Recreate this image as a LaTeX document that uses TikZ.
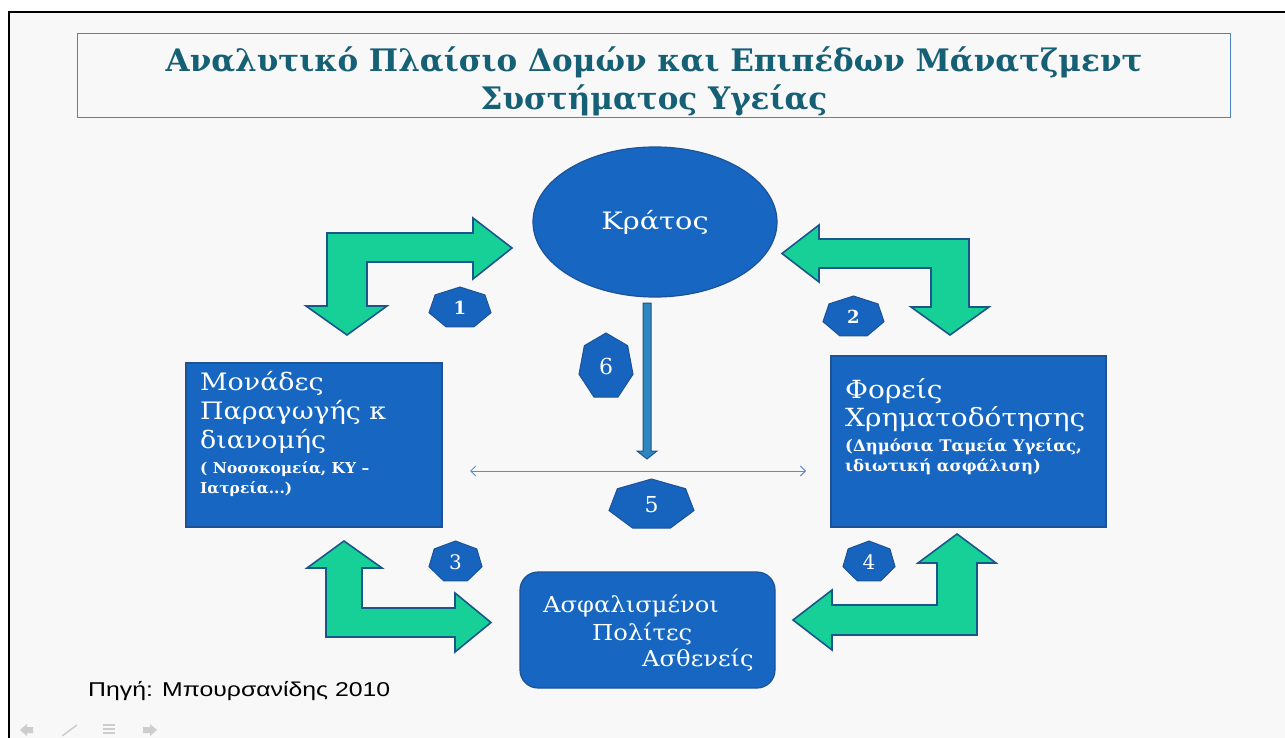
\documentclass[tikz,border=0pt]{standalone}
\usepackage{fontspec}
\setmainfont{DejaVu Serif}
\newfontfamily\boxfont{DejaVu Serif}[FakeStretch=1.12]
\newfontfamily\citfont{DejaVu Serif}[FakeStretch=1.1]
\newfontfamily\notefont{DejaVu Serif}[FakeStretch=1.03]
\newfontfamily\statefont{DejaVu Serif}[FakeStretch=1.2]
\newfontfamily\sourcefont{Liberation Sans}[FakeStretch=1.24]
\usetikzlibrary{shapes.geometric,arrows.meta}

\definecolor{pagebg}{RGB}{248,248,248}
\definecolor{boxblue}{RGB}{22,102,194}
\definecolor{boxedge}{RGB}{30,82,150}
\definecolor{heptblue}{RGB}{22,100,190}
\definecolor{arrowgreen}{RGB}{22,208,152}
\definecolor{arrowedge}{RGB}{26,86,140}
\definecolor{titleteal}{RGB}{22,96,118}
\definecolor{titleedge}{RGB}{75,135,190}
\definecolor{linkblue}{RGB}{95,140,205}
\definecolor{shaftblue}{RGB}{45,135,190}
\definecolor{navgray}{RGB}{205,205,205}

\tikzset{
  blockarrow/.style={fill=arrowgreen, draw=arrowedge, line width=1.6pt, line join=miter},
  unitbox/.style={draw=boxedge, line width=1.2pt, fill=boxblue, inner sep=0pt},
  boxtext/.style={text=white, inner sep=0pt, align=left},
  heptshape/.style={fill=heptblue, draw=boxedge, line width=1pt},
  heptnum/.style={text=white, inner sep=0pt, font=\fontsize{18}{18}\selectfont\bfseries},
}

% heptagon label: name, centre x, centre y, radius x, radius y, number
\newcommand\heptlabel[6]{%
  \draw[heptshape] ({#2},{#3-#5}) -- ({#2-0.7818*#4},{#3-0.6235*#5})
    -- ({#2-0.9749*#4},{#3+0.2225*#5}) -- ({#2-0.4339*#4},{#3+0.9010*#5})
    -- ({#2+0.4339*#4},{#3+0.9010*#5}) -- ({#2+0.9749*#4},{#3+0.2225*#5})
    -- ({#2+0.7818*#4},{#3-0.6235*#5}) -- cycle;
  \node[heptnum] (#1) at (#2,#3) {#6};}

\begin{document}
\begin{tikzpicture}[x=1pt,y=-1pt]
\useasboundingbox (0,0) rectangle (1285,738);
\fill[white] (0,0) rectangle (1285,738);
\fill[pagebg] (9,12) rectangle (1285,738);
\draw[black, line width=2.2pt] (9,738) -- (9,12) -- (1285,12);

% title
\node[draw=titleedge, line width=1pt, minimum width=1153pt, minimum height=84pt, inner sep=0pt] (titlebox) at (653.5,76) {};
\node[text=titleteal, align=center, inner sep=0pt, anchor=north,
      font=\fontsize{31}{38}\selectfont\bfseries] (title) at (654,47)
  {Αναλυτικό Πλαίσιο Δομών και Επιπέδων Μάνατζμεντ\\Συστήματος Υγείας};

% main blocks
\node[ellipse, fill=boxblue, draw=boxedge, line width=1.2pt, minimum width=244pt, minimum height=150pt, inner sep=0pt,
      text=white, font=\statefont\fontsize{24}{24}\selectfont] (state) at (655,222) {Κράτος};

\node[unitbox, minimum width=256pt, minimum height=164pt] (units) at (314,445) {};
\node[boxtext, anchor=north west, font=\boxfont\fontsize{24}{29}\selectfont] (unitsname) at (200,371)
  {Μονάδες\\Παραγωγής κ\\διανομής};
\node[boxtext, anchor=north west, font=\notefont\fontsize{15}{20}\selectfont\bfseries] (unitsnote) at (200,461)
  {( Νοσοκομεία, ΚΥ –\\Ιατρεία...)};

\node[unitbox, minimum width=275pt, minimum height=171pt] (funds) at (968.5,441.5) {};
\node[boxtext, anchor=north west, font=\boxfont\fontsize{25}{28}\selectfont] (fundsname) at (845,378)
  {Φορείς\\Χρηματοδότησης};
\node[boxtext, anchor=north west, font=\notefont\fontsize{16}{20}\selectfont\bfseries] (fundsnote) at (845,438.5)
  {(Δημόσια Ταμεία Υγείας,\\ιδιωτική ασφάλιση)};

\node[unitbox, rounded corners=18pt, minimum width=255pt, minimum height=116pt] (citizens) at (647.5,630) {};
\tikzset{citline/.style={boxtext, anchor=base west, font=\citfont\fontsize{22}{22}\selectfont}}
\node[citline] (cit1) at (543,612) {Ασφαλισμένοι};
\node[citline] (cit2) at (592,640) {Πολίτες};
\node[citline] (cit3) at (642,666) {Ασθενείς};

% bent block arrows
\draw[blockarrow] (327,233) -- (473,233) -- (473,218) -- (512,248) -- (473,279) -- (473,262)
  -- (367,262) -- (367,306) -- (387,306) -- (347,335) -- (306,306) -- (327,306) -- cycle;
\draw[blockarrow] (969,239) -- (819,239) -- (819,225) -- (782,253.5) -- (819,282) -- (819,268)
  -- (931,268) -- (931,307) -- (911,307) -- (950,335) -- (989,307) -- (969,307) -- cycle;
\draw[blockarrow] (326,637) -- (326,568) -- (307,568) -- (344,541) -- (382,568) -- (362,568)
  -- (362,608) -- (455,608) -- (455,593) -- (491,622.5) -- (455,652) -- (455,637) -- cycle;
\draw[blockarrow] (977,635) -- (977,563) -- (996,563) -- (957,534) -- (918,563) -- (937,563)
  -- (937,605) -- (832,605) -- (832,590) -- (793,620) -- (832,650) -- (832,635) -- cycle;

% state down to the exchange line
\draw[fill=shaftblue, draw=arrowedge, line width=1pt] (643,303) -- (651,303) -- (651,451) -- (657,451)
  -- (647,459) -- (637,451) -- (643,451) -- cycle;

% exchange between producers and funds
\coordinate (xl) at (470,471);
\coordinate (xr) at (806,471);
\draw[linkblue, line width=1pt, {Straight Barb[length=5pt,width=10pt]}-{Straight Barb[length=5pt,width=10pt]}] (xl) -- (xr);

% numbered labels
\heptlabel{n1}{460}{308}{31.8}{21}{1}
\heptlabel{n2}{853.5}{317}{31.3}{21}{2}
\heptlabel{n3}{455.5}{562}{27.2}{21}{\mdseries\fontsize{20}{20}\selectfont 3}
\heptlabel{n4}{869}{562}{26.7}{21}{\mdseries\fontsize{20}{20}\selectfont 4}
\heptlabel{n6}{606}{366.7}{27.7}{33.7}{\mdseries\fontsize{22}{22}\selectfont 6}
\heptlabel{n5}{651.5}{504.8}{43.6}{25.8}{\mdseries\fontsize{22}{22}\selectfont 5}

% source
\node[anchor=base west, inner sep=0pt, font=\sourcefont\fontsize{20}{20}\selectfont] (source) at (88,696) {Πηγή: Μπουρσανίδης 2010};

% slide navigation marks
\fill[navgray] (20,730) -- (27,724) -- (27,727) -- (33,727) -- (33,733) -- (27,733) -- (27,736) -- cycle;
\draw[navgray, line width=1.5pt] (62,736) -- (77,725);
\draw[navgray, line width=1.5pt] (103,725) -- (115,725) (103,729) -- (115,729) (103,733) -- (115,733);
\fill[navgray] (157,730) -- (150,724) -- (150,727) -- (143,727) -- (143,733) -- (150,733) -- (150,736) -- cycle;
\end{tikzpicture}
\end{document}
